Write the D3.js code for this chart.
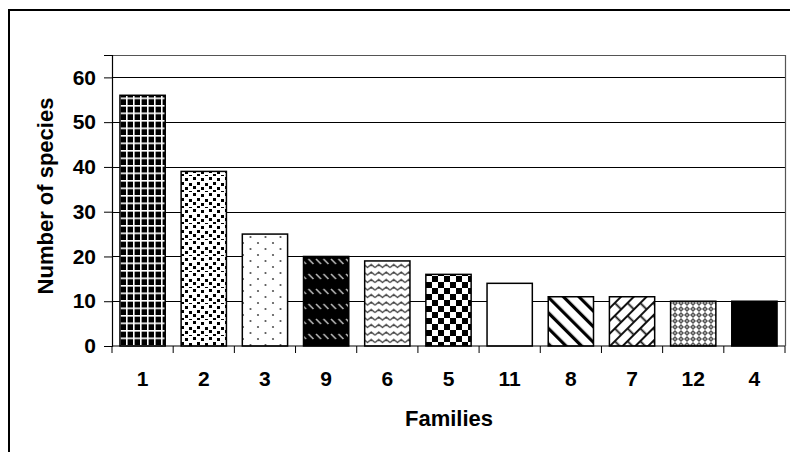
<!DOCTYPE html>
<html>
<head>
<meta charset="utf-8">
<script src="https://cdn.jsdelivr.net/npm/d3@7"></script>
<style>
  html, body { margin: 0; padding: 0; background: #fff; }
  svg { display: block; }
  text { font-family: "Liberation Sans", Arial, sans-serif; font-weight: bold; fill: #000; }
</style>
</head>
<body>
<svg id="chart" width="790" height="452"></svg>
<script>
// Number of species per family, sorted by count
const families = ["1", "2", "3", "9", "6", "5", "11", "8", "7", "12", "4"];
const species = [56, 39, 25, 20, 19, 16, 14, 11, 11, 10, 10];
const yTicks = [0, 10, 20, 30, 40, 50, 60];
const yMax = 65;

const svg = d3.select("#chart");
const W = 790, H = 452;
const plot = { left: 112, right: 785, top: 55, bottom: 346 };

// outer frame (runs past the right and bottom edges of the page)
svg.append("rect")
  .attr("x", 9).attr("y", 10).attr("width", W).attr("height", H)
  .attr("fill", "none").attr("stroke", "#000").attr("stroke-width", 2);

// ---- fill patterns, one per bar ----
const defs = svg.append("defs");
function pat(id, w, h, draw, transform) {
  const p = defs.append("pattern").attr("id", id)
    .attr("patternUnits", "userSpaceOnUse").attr("width", w).attr("height", h);
  if (transform) p.attr("patternTransform", transform);
  draw(p);
}
// large grid: black with white lines
pat("p-grid", 7, 7.5, p => {
  p.append("rect").attr("width", 7).attr("height", 7.5).attr("fill", "#000");
  p.append("rect").attr("x", 0).attr("y", 0).attr("width", 1.6).attr("height", 7.5).attr("fill", "#fff");
  p.append("rect").attr("x", 0).attr("y", 0).attr("width", 7).attr("height", 1.6).attr("fill", "#fff");
});
// confetti: scattered black squares
pat("p-confetti", 16, 16, p => {
  p.append("rect").attr("width", 16).attr("height", 16).attr("fill", "#fff");
  [[1, 1], [9, 2], [5, 6], [13, 7], [1, 10], [9, 11], [5, 14], [13, 15]].forEach(([x, y]) =>
    p.append("rect").attr("x", x).attr("y", y % 16).attr("width", 3).attr("height", 3).attr("fill", "#000"));
});
// sparse dots
pat("p-dots", 15, 12, p => {
  p.append("rect").attr("width", 15).attr("height", 12).attr("fill", "#fff");
  p.append("circle").attr("cx", 3).attr("cy", 3).attr("r", 1.1).attr("fill", "#555");
  p.append("circle").attr("cx", 10.5).attr("cy", 9).attr("r", 1.1).attr("fill", "#555");
});
// dashed diagonal on black
pat("p-dashdiag", 7.5, 15, p => {
  p.append("rect").attr("width", 7.5).attr("height", 15).attr("fill", "#000");
  p.append("line").attr("x1", 1).attr("y1", 4).attr("x2", 6).attr("y2", 9)
    .attr("stroke", "#bbb").attr("stroke-width", 1.6);
});
// wave
pat("p-wave", 15, 7.5, p => {
  p.append("rect").attr("width", 15).attr("height", 7.5).attr("fill", "#fff");
  p.append("path").attr("d", "M0,5 L3.75,2 L7.5,5 L11.25,2 L15,5")
    .attr("fill", "none").attr("stroke", "#444").attr("stroke-width", 1.4);
});
// checkerboard
pat("p-checker", 12, 12, p => {
  p.append("rect").attr("width", 12).attr("height", 12).attr("fill", "#fff");
  p.append("rect").attr("x", 0).attr("y", 0).attr("width", 6).attr("height", 6).attr("fill", "#000");
  p.append("rect").attr("x", 6).attr("y", 6).attr("width", 6).attr("height", 6).attr("fill", "#000");
});
// wide downward diagonal stripes
pat("p-diag", 11, 11, p => {
  p.append("rect").attr("width", 11).attr("height", 11).attr("fill", "#fff");
  p.append("rect").attr("x", 0).attr("y", 0).attr("width", 3.2).attr("height", 11).attr("fill", "#000");
}, "rotate(-45)");
// diagonal brick
pat("p-brick", 18, 18, p => {
  p.append("rect").attr("width", 18).attr("height", 18).attr("fill", "#fff");
  p.append("path").attr("d", "M0,1 H18 M0,10 H18 M4.5,1 V10 M13.5,10 V18")
    .attr("fill", "none").attr("stroke", "#111").attr("stroke-width", 1.8);
}, "rotate(-45)");
// small checker (reads as mid grey)
pat("p-smallcheck", 6, 6, p => {
  p.append("rect").attr("width", 6).attr("height", 6).attr("fill", "#fff");
  p.append("path").attr("d", "M3,0 L6,3 L3,6 L0,3 Z").attr("fill", "#555");
  p.append("rect").attr("x", 2.3).attr("y", 2.3).attr("width", 1.4).attr("height", 1.4).attr("fill", "#ddd");
});

const fills = ["url(#p-grid)", "url(#p-confetti)", "url(#p-dots)", "url(#p-dashdiag)",
  "url(#p-wave)", "url(#p-checker)", "#fff", "url(#p-diag)", "url(#p-brick)",
  "url(#p-smallcheck)", "#000"];

// ---- scales ----
const x = d3.scaleBand().domain(families).range([plot.left, plot.right])
  .paddingInner(0.26).paddingOuter(0.13);
const y = d3.scaleLinear().domain([0, yMax]).range([plot.bottom, plot.top]);

// gridlines
svg.append("g").selectAll("line").data(yTicks.filter(t => t > 0)).join("line")
  .attr("x1", plot.left).attr("x2", plot.right)
  .attr("y1", d => Math.round(y(d)) + 0.5).attr("y2", d => Math.round(y(d)) + 0.5)
  .attr("stroke", "#000").attr("stroke-width", 1);

// plot area border (top and right)
svg.append("path")
  .attr("d", `M${plot.left},${plot.top + 0.5} H${plot.right + 0.5} V${plot.bottom}`)
  .attr("fill", "none").attr("stroke", "#555").attr("stroke-width", 1.2);

// bars
svg.append("g").selectAll("rect").data(families).join("rect")
  .attr("x", d => x(d))
  .attr("y", (d, i) => y(species[i]))
  .attr("width", x.bandwidth())
  .attr("height", (d, i) => y(0) - y(species[i]))
  .attr("fill", (d, i) => fills[i])
  .attr("stroke", "#000").attr("stroke-width", 1.5);

// y axis
const yAxis = d3.axisLeft(y).tickValues(yTicks).tickSize(8).tickPadding(8);
const gy = svg.append("g").attr("transform", `translate(${plot.left},0)`).call(yAxis);
gy.select(".domain").attr("stroke", "#000").attr("stroke-width", 1.2);
gy.selectAll(".tick line").attr("stroke", "#000");
gy.selectAll(".tick text").attr("font-size", 21).attr("font-family", null).attr("fill", "#000");

// x axis: ticks sit on category boundaries
const gx = svg.append("g").attr("transform", `translate(0,${plot.bottom})`);
gx.append("line").attr("x1", plot.left).attr("x2", plot.right)
  .attr("stroke", "#000").attr("stroke-width", 1.2);
const bounds = d3.range(families.length + 1).map(i => plot.left + i * (plot.right - plot.left) / families.length);
gx.selectAll("line.tk").data(bounds).join("line").attr("class", "tk")
  .attr("x1", d => d).attr("x2", d => d).attr("y1", 0).attr("y2", 7)
  .attr("stroke", "#000");
gx.selectAll("text").data(families).join("text")
  .attr("x", d => x(d) + x.bandwidth() / 2).attr("y", 40)
  .attr("text-anchor", "middle").attr("font-size", 21)
  .text(d => d);

// axis titles
svg.append("text").attr("x", 449).attr("y", 426)
  .attr("text-anchor", "middle").attr("font-size", 22).text("Families");
svg.append("text")
  .attr("transform", "translate(53,196) rotate(-90)")
  .attr("text-anchor", "middle").attr("font-size", 22).text("Number of species");
</script>
</body>
</html>
